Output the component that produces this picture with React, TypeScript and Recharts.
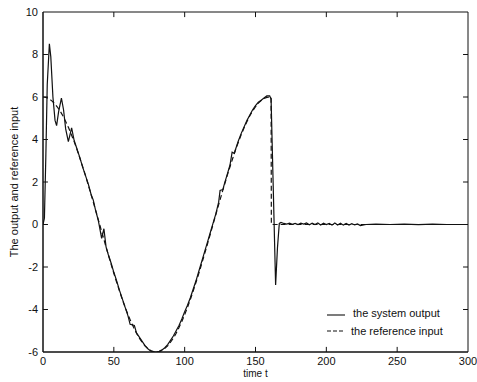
import React from 'react';
import { LineChart, Line, XAxis, YAxis, ReferenceLine, ReferenceArea } from 'recharts';

const FONT = '"Liberation Sans", Arial, Helvetica, sans-serif';

// reference input (dashed)
const refTime = [
  0, 2, 4, 6, 8, 10, 12, 14, 16, 18, 20, 22, 24, 26, 28, 30, 32, 34, 36, 38, 40,
  42, 44, 46, 48, 50, 52, 54, 56, 58, 60, 62, 64, 66, 68, 70, 72, 74, 76, 78, 80,
  82, 84, 86, 88, 90, 92, 94, 96, 98, 100, 102, 104, 106, 108, 110, 112, 114, 116, 118, 120,
  122, 124, 126, 128, 130, 132, 134, 136, 138, 140, 142, 144, 146, 148, 150, 152, 154, 156, 158, 160,
  161, 161.2, 200, 250, 300,
];
const refValue = [
  6, 5.98, 5.93, 5.83, 5.71, 5.54, 5.35, 5.12, 4.85, 4.56, 4.24, 3.9, 3.53, 3.13, 2.72, 2.3, 1.85, 1.4, 0.94, 0.47, 0,
  -0.47, -0.94, -1.4, -1.85, -2.3, -2.72, -3.13, -3.53, -3.9, -4.24, -4.56, -4.85, -5.12, -5.35, -5.54, -5.71, -5.83, -5.93, -5.98, -6,
  -5.98, -5.93, -5.83, -5.71, -5.54, -5.35, -5.12, -4.85, -4.56, -4.24, -3.9, -3.53, -3.13, -2.72, -2.3, -1.85, -1.4, -0.94, -0.47, 0,
  0.47, 0.94, 1.4, 1.85, 2.3, 2.72, 3.13, 3.53, 3.9, 4.24, 4.56, 4.85, 5.12, 5.35, 5.54, 5.71, 5.83, 5.93, 5.98, 6,
  6, 0, 0, 0, 0,
];

// system output (solid)
const outTime = [
  0, 1, 2, 3, 4.5, 5.5, 7, 8.5, 9.6, 11, 13, 14.5, 16, 17.9, 20.2, 22, 24, 26, 28, 30,
  32, 34, 35.5, 37, 39, 41.4, 43, 44.5, 46, 48, 50, 52, 54, 56, 58, 60, 61.5, 64.5, 66, 68,
  70, 72, 74, 76, 78, 80, 82, 84, 86, 88, 90, 92, 94, 96, 98, 100, 102, 104, 106, 108,
  110, 112, 114, 116, 118, 120, 122, 124, 125, 127, 128, 130, 132, 133.5, 135, 136, 138, 140, 142, 144,
  146, 148, 150, 152, 154, 156, 158, 160, 161, 164.2, 165.5, 166.8, 168, 170, 172, 174, 176, 178, 180, 182,
  184, 186, 188, 190, 192, 194, 196, 198, 200, 202, 204, 206, 208, 210, 212, 214, 216, 218, 220, 222,
  224, 228, 235, 245, 255, 265, 275, 285, 300,
];
const outValue = [
  0, 0.3, 3.2, 6.6, 8.5, 7.9, 6.0, 4.9, 4.65, 5.3, 5.95, 5.4, 4.5, 3.9, 4.55, 3.95, 3.55, 3.15, 2.7, 2.3,
  1.9, 1.4, 1.15, 0.7, 0.2, -0.65, -0.2, -1.05, -1.4, -1.8, -2.25, -2.65, -3.1, -3.5, -3.9, -4.3, -4.7, -4.75, -5.1, -5.3,
  -5.5, -5.7, -5.85, -5.95, -6.0, -6.0, -5.97, -5.9, -5.8, -5.65, -5.45, -5.25, -5.0, -4.75, -4.45, -4.1, -3.8, -3.45, -3.05, -2.65,
  -2.2, -1.75, -1.3, -0.85, -0.4, 0.05, 0.5, 1.05, 1.6, 1.65, 1.9, 2.35, 2.8, 3.4, 3.35, 3.55, 3.95, 4.3, 4.6, 4.9,
  5.15, 5.4, 5.6, 5.75, 5.85, 5.95, 6.05, 6.05, 5.9, -2.85, -1.1, 0.05, 0.1, 0.05, 0.02, 0.06, 0.01, 0.05, 0.0, 0.06,
  0.02, 0.07, -0.01, 0.06, 0.0, 0.07, -0.02, 0.06, 0.0, 0.05, -0.03, 0.07, -0.02, 0.06, -0.03, 0.05, -0.03, 0.04, -0.02, 0.03,
  -0.05, 0.0, 0.02, 0.0, 0.02, -0.01, 0.02, 0.0, 0.0,
];

const xTicks = [0, 50, 100, 150, 200, 250, 300];
const yTicks = [-6, -4, -2, 0, 2, 4, 6, 8, 10];
const seriesNames = ['the system output', 'the reference input'];

const refData = refTime.map((t, i) => ({ t, v: refValue[i] }));
const outData = outTime.map((t, i) => ({ t, v: outValue[i] }));

const INK = '#111';

// legend sits inside the plot, so keep it out of the chart's layout
const LegendBox = () => (
  <div style={{ position: 'absolute', left: 325, top: 304, fontFamily: FONT, fontSize: 11, color: INK }}>
    {seriesNames.map((name, i) => (
      <div key={name} style={{ display: 'flex', alignItems: 'center', height: 18 }}>
        <svg width={24} height={10}>
          <line x1={2} y1={i === 0 ? 7 : 5} x2={20} y2={i === 0 ? 7 : 5} stroke={INK} strokeWidth={1.1} strokeDasharray={i === 1 ? '4 2' : undefined} />
        </svg>
        <span style={{ marginLeft: i === 0 ? 4 : 2 }}>{name}</span>
      </div>
    ))}
  </div>
);

export default function App() {
  return (
    <div style={{ position: 'absolute', left: 0, top: 0, width: 477, height: 382, background: '#fff' }}>
      <LineChart width={477} height={382} margin={{ top: 12, right: 9, left: 13, bottom: 0 }}>
        <XAxis
          dataKey="t"
          type="number"
          domain={[0, 300]}
          ticks={xTicks}
          allowDataOverflow
          tickSize={0}
          tickMargin={5}
          height={30}
          axisLine={{ stroke: INK }}
          tick={{ fill: INK, fontSize: 11, fontFamily: FONT }}
          label={{
            content: (p: any) => {
              const vb = p.viewBox || {};
              return (
                <text x={vb.x + vb.width / 2} y={377} textAnchor="middle" fontSize={10} fontFamily={FONT} fill={INK}>
                  time t
                </text>
              );
            },
          }}
        />
        <YAxis
          type="number"
          domain={[-6, 10]}
          ticks={yTicks}
          allowDataOverflow
          tickSize={0}
          tickMargin={5}
          width={30}
          axisLine={{ stroke: INK }}
          tick={{ fill: INK, fontSize: 11, fontFamily: FONT }}
          label={{
            content: (p: any) => {
              const vb = p.viewBox || {};
              const cy = vb.y + vb.height / 2;
              return (
                <text x={14} y={cy} transform={`rotate(-90 14 ${cy})`} textAnchor="middle" dominantBaseline="central" fontSize={11} fontFamily={FONT} fill={INK}>
                  The output and reference input
                </text>
              );
            },
          }}
        />
        <ReferenceArea x1={0} x2={300} y1={-6} y2={10} fill="none" stroke={INK} strokeWidth={1} ifOverflow="visible" />
        {xTicks.slice(1, -1).map((t) => (
          <ReferenceLine key={`xb${t}`} segment={[{ x: t, y: -6 }, { x: t, y: -5.76 }]} stroke={INK} />
        ))}
        {xTicks.slice(1, -1).map((t) => (
          <ReferenceLine key={`xt${t}`} segment={[{ x: t, y: 10 }, { x: t, y: 9.76 }]} stroke={INK} />
        ))}
        {yTicks.slice(1, -1).map((v) => (
          <ReferenceLine key={`yl${v}`} segment={[{ x: 0, y: v }, { x: 3.5, y: v }]} stroke={INK} />
        ))}
        {yTicks.slice(1, -1).map((v) => (
          <ReferenceLine key={`yr${v}`} segment={[{ x: 296.5, y: v }, { x: 300, y: v }]} stroke={INK} />
        ))}
        <Line
          data={refData}
          dataKey="v"
          name={seriesNames[1]}
          type="linear"
          stroke={INK}
          strokeWidth={1.2}
          strokeDasharray="5 3"
          dot={false}
          isAnimationActive={false}
        />
        <Line
          data={outData}
          dataKey="v"
          name={seriesNames[0]}
          type="linear"
          stroke={INK}
          strokeWidth={1.2}
          dot={false}
          isAnimationActive={false}
        />
      </LineChart>
      <LegendBox />
    </div>
  );
}
